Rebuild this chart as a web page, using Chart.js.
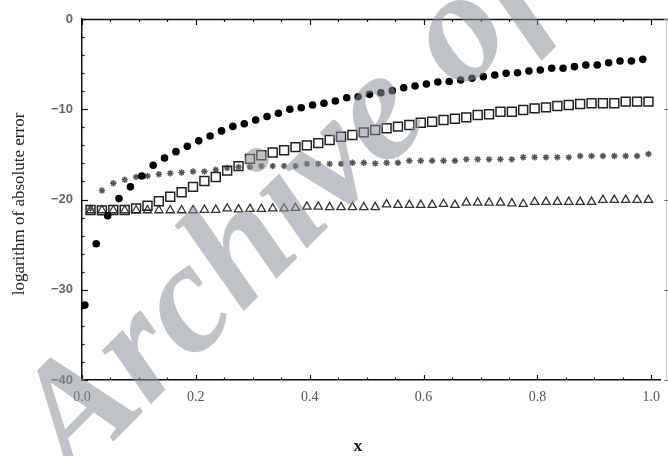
<!DOCTYPE html>
<html>
<head>
<meta charset="utf-8">
<script src="https://cdn.jsdelivr.net/npm/chart.js@4.4.1/dist/chart.umd.min.js"></script>
<style>
  html, body { margin: 0; padding: 0; background: #ffffff; }
  #wrap { width: 668px; height: 456px; position: relative; }
</style>
</head>
<body>
<div id="wrap"><canvas id="c" width="668" height="456"></canvas></div>
<script>
// ---------- data ----------
const xCircles = [0.005,0.025,0.045,0.065,0.085,0.105,0.125,0.145,0.165,0.185,
                  0.205,0.225,0.245,0.265,0.285,0.305,0.325,0.345,0.365,0.385,
                  0.405,0.425,0.445,0.465,0.485,0.505,0.525,0.545,0.565,0.585,
                  0.605,0.625,0.645,0.665,0.685,0.705,0.725,0.745,0.765,0.785,
                  0.805,0.825,0.845,0.865,0.885,0.905,0.925,0.945,0.965,0.985];
const xOthers  = [0.015,0.035,0.055,0.075,0.095,0.115,0.135,0.155,0.175,0.195,
                  0.215,0.235,0.255,0.275,0.295,0.315,0.335,0.355,0.375,0.395,
                  0.415,0.435,0.455,0.475,0.495,0.515,0.535,0.555,0.575,0.595,
                  0.615,0.635,0.655,0.675,0.695,0.715,0.735,0.755,0.775,0.795,
                  0.815,0.835,0.855,0.875,0.895,0.915,0.935,0.955,0.975,0.995];

const circles = [-31.7,-24.9,-21.8,-19.9,-18.6,-17.4,-16.2,-15.4,-14.7,-14.1,
                 -13.5,-12.96,-12.4,-11.9,-11.6,-11.19,-10.8,-10.45,-10.0,-9.83,
                 -9.53,-9.34,-9.09,-8.72,-8.61,-8.35,-8.17,-7.94,-7.61,-7.42,
                 -7.2,-6.98,-6.92,-6.76,-6.57,-6.39,-6.2,-6.02,-5.95,-5.76,
                 -5.65,-5.46,-5.46,-5.28,-5.1,-5.1,-4.84,-4.65,-4.65,-4.47];
const squares = [-21.16,-21.2,-21.16,-21.16,-20.98,-20.7,-20.2,-19.7,-19.2,-18.6,
                 -17.95,-17.5,-16.8,-16.3,-15.5,-15.1,-14.8,-14.55,-14.2,-14.0,
                 -13.75,-13.4,-13.04,-12.85,-12.56,-12.3,-12.1,-11.93,-11.75,-11.49,
                 -11.38,-11.19,-11.05,-10.9,-10.64,-10.56,-10.27,-10.27,-10.08,-9.9,
                 -9.79,-9.64,-9.53,-9.42,-9.34,-9.34,-9.34,-9.16,-9.16,-9.16];
const stars   = [-21.0,-19.0,-18.2,-17.8,-17.5,-17.4,-17.2,-17.1,-17.0,-16.9,
                 -16.9,-16.7,-16.5,-16.4,-16.4,-16.3,-16.3,-16.3,-16.3,-16.05,
                 -16.05,-16.05,-16.05,-15.92,-15.92,-16.0,-15.92,-15.92,-15.7,-15.7,
                 -15.7,-15.7,-15.7,-15.55,-15.55,-15.55,-15.55,-15.55,-15.33,-15.33,
                 -15.33,-15.33,-15.33,-15.18,-15.18,-15.18,-15.18,-15.18,-15.18,-14.96];
const triangles = [-21.2,-21.2,-21.2,-21.2,-21.2,-21.2,-21.2,-21.2,-21.2,-21.2,
                   -21.15,-21.15,-21.0,-21.1,-21.05,-21.05,-21.0,-21.0,-20.95,-20.8,
                   -20.8,-20.85,-20.85,-20.85,-20.85,-20.85,-20.55,-20.6,-20.6,-20.6,
                   -20.6,-20.5,-20.6,-20.35,-20.35,-20.35,-20.35,-20.43,-20.5,-20.27,
                   -20.27,-20.27,-20.27,-20.27,-20.27,-20.05,-20.05,-20.05,-20.05,-20.05];

const xTicks = [0, 0.2, 0.4, 0.6, 0.8, 1.0];
const yTicks = [0, -10, -20, -30, -40];
const xTitle = 'x';
const yTitle = 'logarithm of absolute error';
const watermark = 'Archive of SID';

// ---------- chart ----------
const pts = (xs, ys) => ys.map((v, i) => ({ x: xs[i], y: v }));

const framePlugin = {
  id: 'frame',
  afterDraw(chart) {
    const { ctx, chartArea: a, scales: { x, y } } = chart;
    ctx.save();
    ctx.strokeStyle = '#111';
    ctx.lineWidth = 1.5;
    // top frame line
    ctx.beginPath();
    ctx.moveTo(a.left, a.top + 0.5);
    ctx.lineTo(668, a.top + 0.5);
    ctx.stroke();
    // ticks on top and bottom
    ctx.lineWidth = 1.2;
    for (let i = 0; i <= 20; i++) {
      const v = i * 0.05;
      const px = Math.round(x.getPixelForValue(v)) + 0.5;
      const major = i % 4 === 0;
      ctx.beginPath();
      ctx.moveTo(px, a.top);
      ctx.lineTo(px, a.top + (major ? 6 : 3));
      ctx.moveTo(px, a.bottom);
      ctx.lineTo(px, a.bottom - (major ? 5 : 2.5));
      ctx.stroke();
    }
    // ticks on the left
    for (let i = 0; i <= 20; i++) {
      const v = -i * 2;
      const py = Math.round(y.getPixelForValue(v)) + 0.5;
      const major = i % 5 === 0;
      ctx.beginPath();
      ctx.moveTo(a.left, py);
      ctx.lineTo(a.left + (major ? 6 : 2.5), py);
      ctx.stroke();
    }
    // faint right frame
    ctx.strokeStyle = '#c8c8c8';
    ctx.lineWidth = 1;
    ctx.beginPath();
    ctx.moveTo(666.5, a.top);
    ctx.lineTo(666.5, a.bottom);
    ctx.stroke();
    ctx.strokeStyle = '#777';
    for (const v of yTicks) {
      const py = Math.round(y.getPixelForValue(v)) + 0.5;
      ctx.beginPath();
      ctx.moveTo(664, py);
      ctx.lineTo(668, py);
      ctx.stroke();
    }
    // axis titles
    ctx.fillStyle = '#111';
    ctx.textAlign = 'center';
    ctx.textBaseline = 'middle';
    ctx.font = 'bold 17px "Liberation Serif"';
    ctx.fillText(xTitle, 358, 447);
    ctx.save();
    ctx.translate(20, 204);
    ctx.rotate(-Math.PI / 2);
    ctx.font = '17px "Liberation Serif"';
    ctx.fillStyle = '#222';
    ctx.fillText(yTitle, 0, 0);
    ctx.restore();
    // watermark
    ctx.save();
    ctx.translate(74, 481);
    ctx.rotate(-45 * Math.PI / 180);
    ctx.font = 'italic bold 158px "Liberation Serif"';
    ctx.textAlign = 'left';
    ctx.textBaseline = 'alphabetic';
    ctx.fillStyle = 'rgba(140,145,150,0.55)';
    ctx.fillText(watermark, 0, 0);
    ctx.restore();
    ctx.restore();
  }
};

new Chart(document.getElementById('c'), {
  type: 'scatter',
  data: {
    datasets: [
      { label: 'circles', data: pts(xCircles, circles), pointStyle: 'circle', pointRadius: 3.8,
        backgroundColor: '#000', borderColor: '#000', borderWidth: 0, clip: 0 },
      { label: 'squares', data: pts(xOthers, squares), pointStyle: 'rect', pointRadius: 6.3,
        backgroundColor: 'rgba(0,0,0,0)', borderColor: '#222', borderWidth: 1.5, clip: 0 },
      { label: 'stars', data: pts(xOthers, stars), pointStyle: 'star', pointRadius: 3.2,
        backgroundColor: '#555', borderColor: '#555', borderWidth: 1.4, clip: 0 },
      { label: 'triangles', data: pts(xOthers, triangles), pointStyle: 'triangle', pointRadius: 4.8,
        backgroundColor: 'rgba(0,0,0,0)', borderColor: '#333', borderWidth: 1.3, clip: 0 }
    ]
  },
  options: {
    responsive: false,
    animation: false,
    devicePixelRatio: 1,
    layout: { padding: { top: 19, right: 1, left: 0, bottom: 0 } },
    plugins: { legend: { display: false }, tooltip: { enabled: false } },
    scales: {
      x: {
        type: 'linear', min: 0, max: 1.0156,
        afterBuildTicks: s => { s.ticks = xTicks.map(v => ({ value: v })); },
        afterFit: s => { s.height = 76; s.paddingLeft = 0; s.paddingRight = 0; },
        grid: { display: false, drawTicks: false },
        border: { display: true, color: '#111', width: 1.5 },
        ticks: { padding: 9, color: '#555', font: { family: 'Liberation Serif', size: 14 },
                 maxRotation: 0, callback: v => Number(v).toFixed(1) }
      },
      y: {
        type: 'linear', min: -40, max: 0,
        afterBuildTicks: s => { s.ticks = yTicks.map(v => ({ value: v })); },
        afterFit: s => { s.width = 82; s.paddingTop = 0; s.paddingBottom = 0; },
        grid: { display: false, drawTicks: false },
        border: { display: true, color: '#111', width: 1.5 },
        ticks: { padding: 9, color: '#666', font: { family: 'Liberation Sans', size: 13, weight: 'bold' },
                 callback: v => (v < 0 ? '\u2212' + Math.abs(v) : String(v)) }
      }
    }
  },
  plugins: [framePlugin]
});
</script>
</body>
</html>
